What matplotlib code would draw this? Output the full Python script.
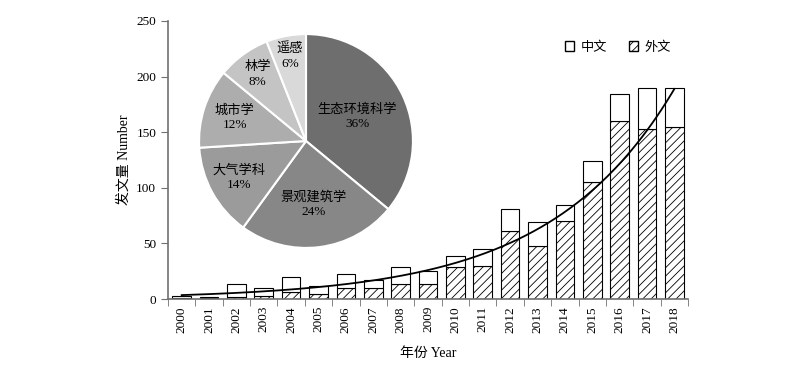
import numpy as np
import matplotlib
matplotlib.use("Agg")
import matplotlib.pyplot as plt
from matplotlib.patches import Patch

plt.rcParams['font.family'] = ['Liberation Serif', 'Noto Sans CJK SC']
plt.rcParams['hatch.linewidth'] = 0.6

# 数据
years = [str(y) for y in range(2000, 2019)]
waiwen = [1, 1, 2, 3, 6, 5, 10, 10, 14, 14, 29, 30, 61, 48, 70, 105, 160, 153, 155]
zongshu = [3, 2, 14, 10, 20, 12, 23, 17, 29, 25, 39, 45, 81, 69, 85, 124, 184, 190, 190]
zhongwen = [t - w for t, w in zip(zongshu, waiwen)]

# 指数趋势线 y = a*exp(b*x)（从图上读出的系数）
trend_a = 3.6
trend_b = 0.22

pie_labels = ['生态环境科学', '景观建筑学', '大气学科', '城市学', '林学', '遥感']
pie_pct = [36, 24, 14, 12, 8, 6]
pie_colors = ['#6e6e6e', '#878787', '#9b9b9b', '#adadad', '#c4c4c4', '#d9d9d9']
label_r = [0.53, 0.6, 0.71, 0.7, 0.77, 0.81]

fig = plt.figure(figsize=(8, 3.67), dpi=100)
ax = fig.add_axes([0.21, 0.185, 0.65, 0.758])

x = np.arange(len(years))
ax.bar(x, waiwen, width=0.68, color='white', edgecolor='black', linewidth=0.8, hatch='////')
ax.bar(x, zhongwen, bottom=waiwen, width=0.68, color='white', edgecolor='black', linewidth=0.8)

xs = np.linspace(0, 18, 200)
ax.plot(xs, trend_a * np.exp(trend_b * xs), color='black', linewidth=1.3)

ax.set_xlim(-0.5, 18.5)
ax.set_ylim(0, 250)
ax.set_yticks(range(0, 251, 50))
ax.set_xticks(x)
ax.set_xticklabels(years, rotation=90, fontsize=9.5)
ax.set_xticks(np.arange(-0.5, 19, 1), minor=True)
ax.tick_params(axis='x', which='major', length=0, pad=5)
ax.tick_params(axis='x', which='minor', length=5, direction='out', color='#707070')
ax.tick_params(axis='y', length=5, direction='out', color='#707070', labelsize=9.5)
for s in ['top', 'right']:
    ax.spines[s].set_visible(False)
for s in ['left', 'bottom']:
    ax.spines[s].set_color('#707070')
    ax.spines[s].set_linewidth(1.2)
ax.set_ylabel('发文量 Number', fontsize=10, labelpad=4)
ax.set_xlabel('年份 Year', fontsize=10, labelpad=10)

handles = [Patch(facecolor='white', edgecolor='black', label='中文'),
           Patch(facecolor='white', edgecolor='black', hatch='////', label='外文')]
ax.legend(handles=handles, loc='upper right', bbox_to_anchor=(0.99, 0.97), ncol=2,
          frameon=False, fontsize=9.5, handlelength=0.7, handleheight=0.7,
          handletextpad=0.5, columnspacing=1.6)

# 饼图
pax = fig.add_axes([198 / 800, 1 - 249 / 367, 216 / 800, 216 / 367])
wedges, _ = pax.pie(pie_pct, colors=pie_colors, startangle=90, counterclock=False,
                    wedgeprops=dict(edgecolor='white', linewidth=1.5))
for w, n, p, r in zip(wedges, pie_labels, pie_pct, label_r):
    mid = np.deg2rad((w.theta1 + w.theta2) / 2)
    pax.text(r * np.cos(mid), r * np.sin(mid), f'{n}\n{p}%', ha='center', va='center',
             fontsize=9.5, linespacing=1.3)
pax.set_xlim(-1.01, 1.01)
pax.set_ylim(-1.01, 1.01)
pax.set_aspect('equal')

fig.savefig('out.png', dpi=100)
